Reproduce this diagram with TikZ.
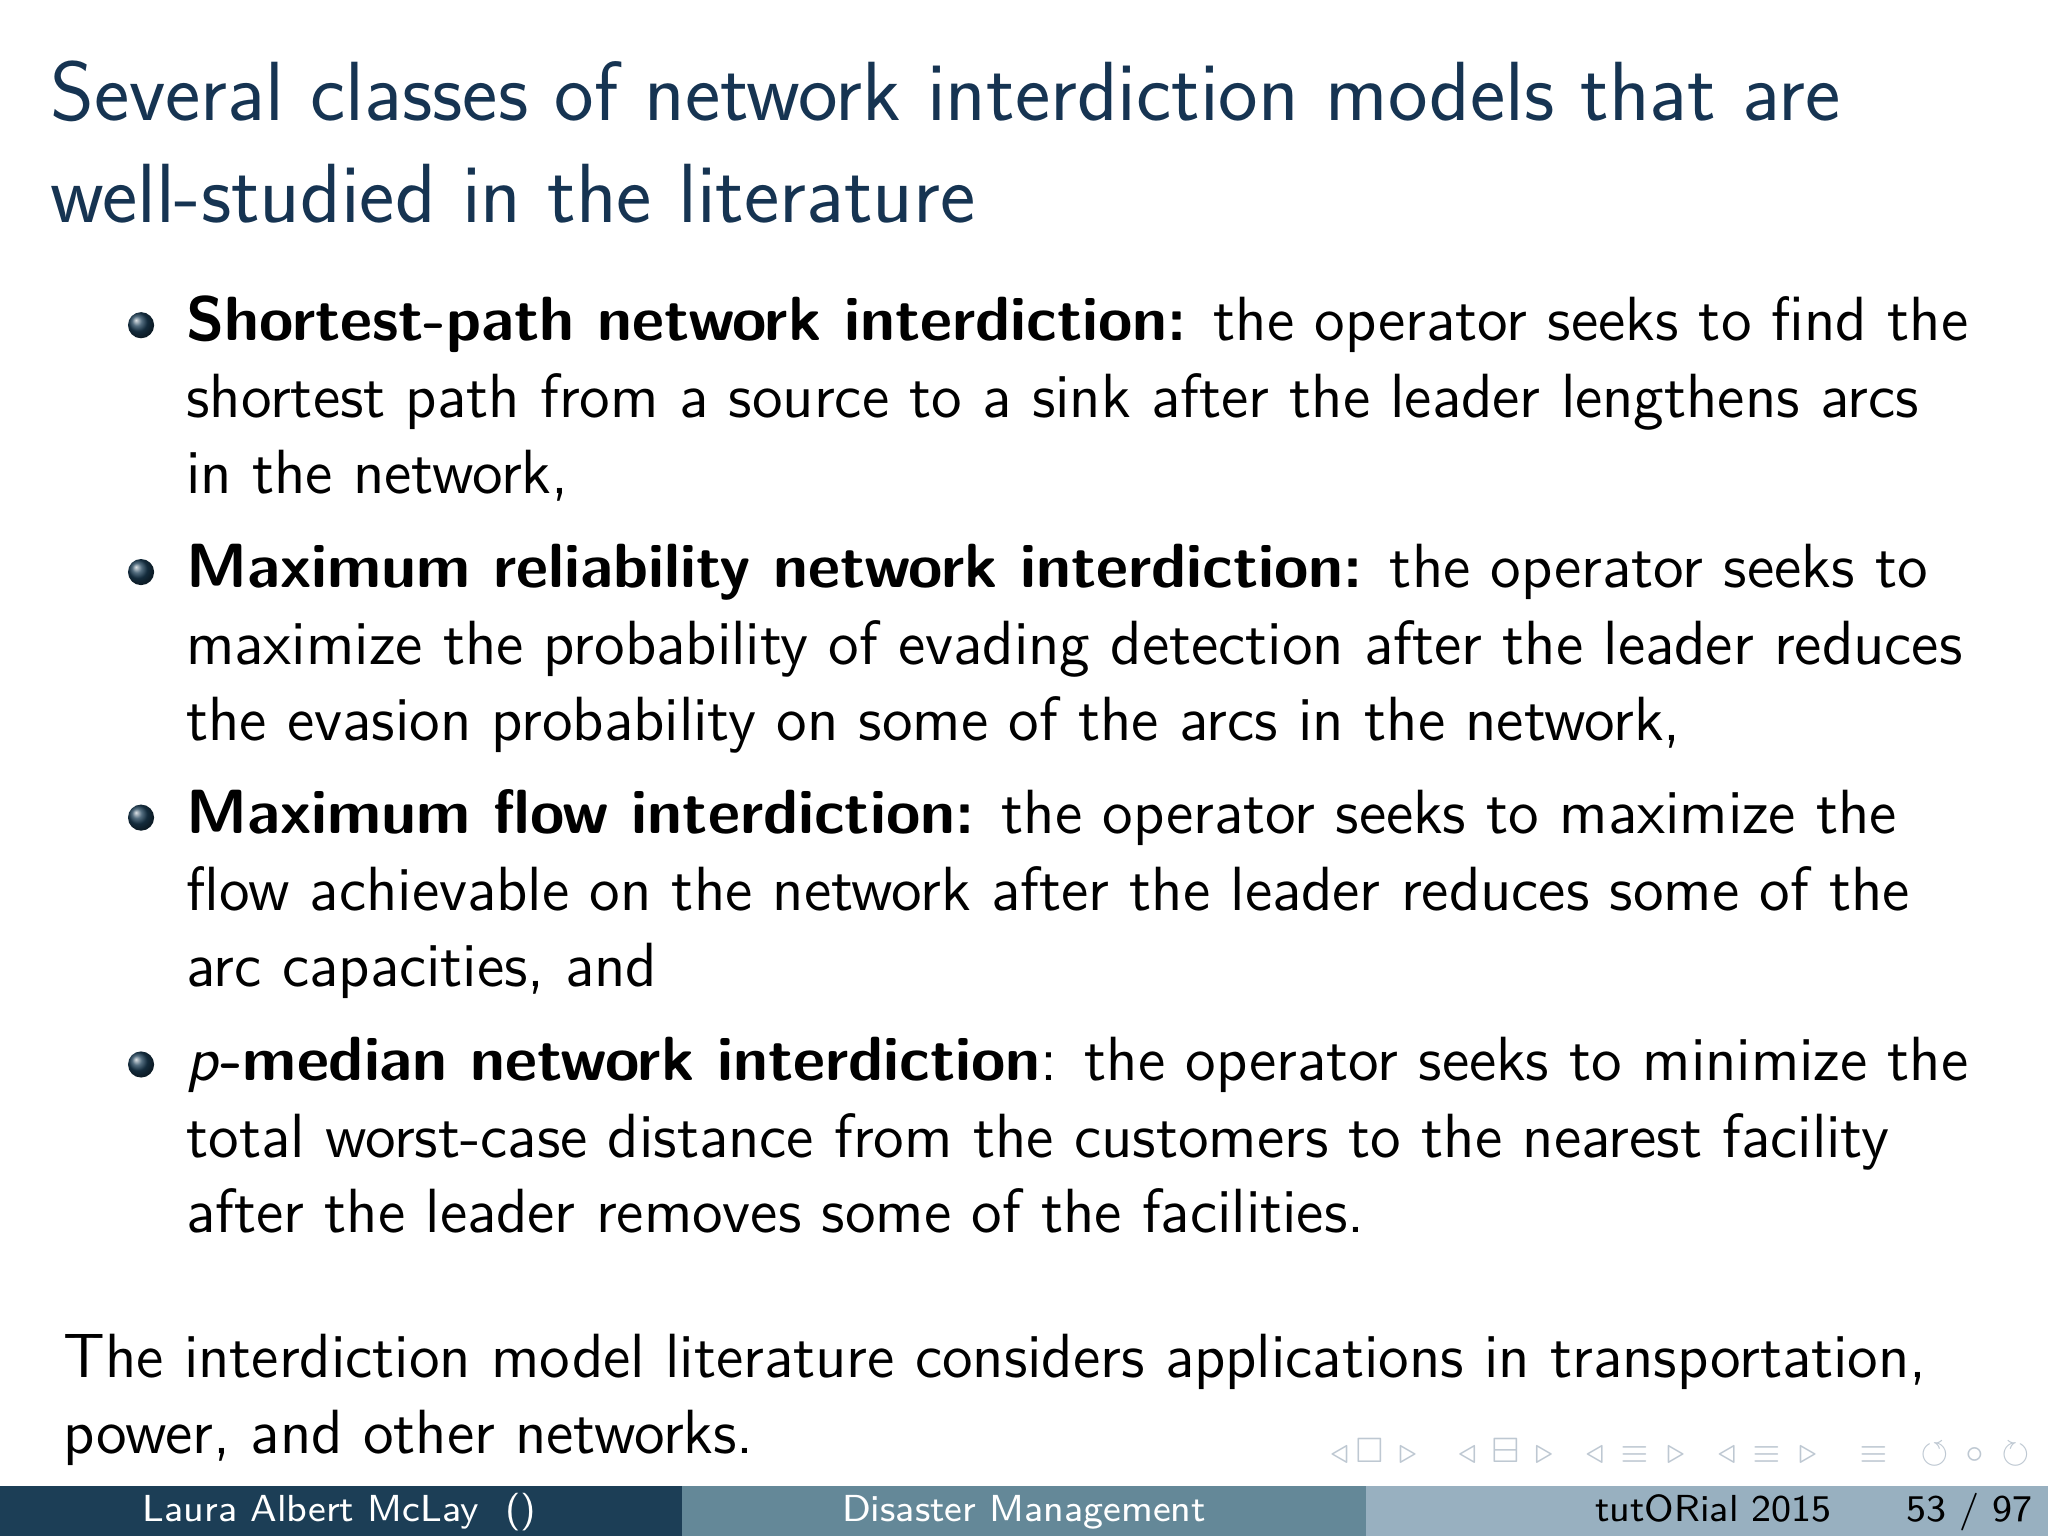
\documentclass[tikz,border=0pt]{standalone}
\usepackage{fontspec}
\usepackage{amssymb}
\begin{document}
\sffamily
\definecolor{titleblue}{RGB}{22,52,82}
\definecolor{footA}{RGB}{28,62,86}
\definecolor{footB}{RGB}{100,136,152}
\definecolor{footC}{RGB}{152,176,192}
\definecolor{navgray}{RGB}{190,200,210}
\tikzset{
 ln/.style={anchor=base west,inner sep=0pt,font=\fontsize{13.6}{16}\selectfont},
 tl/.style={anchor=base west,inner sep=0pt,font=\fontsize{18.3}{22}\selectfont,text=titleblue},
 ball/.style={circle,minimum size=0.2cm,inner sep=0pt,ball color=footA},
 ft/.style={anchor=base,inner sep=0pt,text=white,font=\fontsize{8.2}{10}\selectfont},
}
\begin{tikzpicture}[x=1cm,y=-1cm]
\useasboundingbox (0,0) rectangle (15.68,11.76);
\fill[white] (0,0) rectangle (15.68,11.76);
\node[tl] (t1) at (0.38,0.92) {Several classes of network interdiction models that are};
\node[tl] (t2) at (0.38,1.70) {well-studied in the literature};
\node[ball] (b1) at (1.08,2.49) {};
\node[ball] (b2) at (1.08,4.38) {};
\node[ball] (b3) at (1.08,6.26) {};
\node[ball] (b4) at (1.08,8.15) {};
\node[ln] (l1) at (1.42,2.61) {\textbf{Shortest-path network interdiction:} the operator seeks to find the};
\node[ln] (l2) at (1.42,3.20) {shortest path from a source to a sink after the leader lengthens arcs};
\node[ln] (l3) at (1.42,3.78) {in the network,};
\node[ln] (l4) at (1.42,4.50) {\textbf{Maximum reliability network interdiction:} the operator seeks to};
\node[ln] (l5) at (1.42,5.09) {maximize the probability of evading detection after the leader reduces};
\node[ln] (l6) at (1.42,5.67) {the evasion probability on some of the arcs in the network,};
\node[ln] (l7) at (1.42,6.38) {\textbf{Maximum flow interdiction:} the operator seeks to maximize the};
\node[ln] (l8) at (1.42,6.97) {flow achievable on the network after the leader reduces some of the};
\node[ln] (l9) at (1.42,7.55) {arc capacities, and};
\node[ln] (l10) at (1.42,8.27) {\textit{p}\textbf{-median network interdiction}: the operator seeks to minimize the};
\node[ln] (l11) at (1.42,8.86) {total worst-case distance from the customers to the nearest facility};
\node[ln] (l12) at (1.42,9.44) {after the leader removes some of the facilities.};
\node[ln] (c1) at (0.48,10.55) {The interdiction model literature considers applications in transportation,};
\node[ln] (c2) at (0.48,11.13) {power, and other networks.};
\node[anchor=base east,inner sep=0pt,text=navgray,font=\fontsize{7}{8}\selectfont] (nav) at (15.55,11.20)
 {$\triangleleft\,\square\,\triangleright\quad\triangleleft\,\boxminus\,\triangleright\quad\triangleleft\,\equiv\,\triangleright\quad\triangleleft\,\equiv\,\triangleright\quad\equiv\quad\circlearrowleft\,\circ\,\circlearrowright$};
\fill[footA] (0,11.38) rectangle (5.22,11.76);
\fill[footB] (5.22,11.38) rectangle (10.46,11.76);
\fill[footC] (10.46,11.38) rectangle (15.68,11.76);
\node[ft] (f1) at (2.6,11.65) {Laura Albert McLay\ \ ()};
\node[ft] (f2) at (7.84,11.65) {Disaster Management};
\node[ft,text=black] (f3) at (13.12,11.65) {tutORial 2015};
\node[ft,text=black] (f4) at (15.08,11.65) {53 / 97};
\end{tikzpicture}
\end{document}
